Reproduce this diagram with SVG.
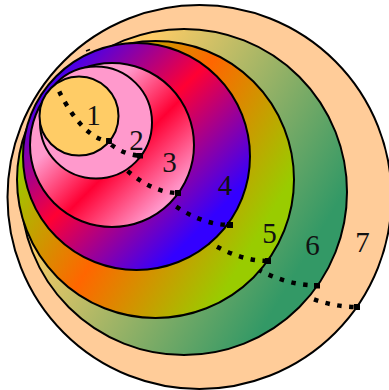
<svg xmlns="http://www.w3.org/2000/svg" width="389" height="390" viewBox="0 0 389 390">
<style>
.ring{stroke:#000;stroke-width:2}
.dots{fill:none;stroke:#000;stroke-width:4.5;stroke-dasharray:4.5 7.5;marker-end:url(#sq)}
.lbl{font-family:"Liberation Serif","Times New Roman",serif;font-size:29px;fill:#111;text-anchor:middle}
</style>
<defs>
<marker id="sq" markerUnits="userSpaceOnUse" markerWidth="6" markerHeight="6" refX="3" refY="3" orient="auto">
<rect width="6" height="6" fill="#000"/>
</marker>
<linearGradient id="g6" x1="0" y1="0" x2="1" y2="0.6">
<stop offset="0.3" stop-color="#FFCC66"/>
<stop offset="0.95" stop-color="#339966"/>
</linearGradient>
<linearGradient id="g5" x1="0" y1="0" x2="1" y2="0.6">
<stop offset="0.2" stop-color="#99CC00"/>
<stop offset="0.55" stop-color="#FF6600"/>
<stop offset="0.95" stop-color="#99CC00"/>
</linearGradient>
<linearGradient id="g4" x1="0" y1="0" x2="1" y2="1">
<stop offset="0.12" stop-color="#3300FF"/>
<stop offset="0.45" stop-color="#FF0033"/>
<stop offset="0.8" stop-color="#3300FF"/>
</linearGradient>
<linearGradient id="g3" x1="0" y1="0" x2="1" y2="1">
<stop offset="0.32" stop-color="#FF99CC"/>
<stop offset="0.57" stop-color="#FF0033"/>
<stop offset="0.84" stop-color="#FF99CC"/>
</linearGradient>
</defs>
<g id="node7">
<circle class="ring" cx="199.5" cy="197" r="192" fill="#FFCC99"/>
<path class="dots" d="M103.5,78 C141.9,158.6 250,307 357,307"/>
<line x1="86" y1="51" x2="90" y2="49.5" stroke="#000" stroke-width="1.5"/>
<text class="lbl" x="362.5" y="252">7</text>
</g>
<g id="node6">
<circle class="ring" cx="184" cy="192" r="163" fill="url(#g6)"/>
<path class="dots" d="M102.5,90.9 C135.1,159.4 225,285.5 317,285.5"/>
<text class="lbl" x="312.5" y="255">6</text>
</g>
<g id="node5">
<circle class="ring" cx="155.5" cy="179.5" r="138.5" fill="url(#g5)"/>
<path class="dots" d="M86.25,93.6 C113.95,151.8 190,261 268,261"/>
<text class="lbl" x="269.5" y="243">5</text>
</g>
<g id="node4">
<circle class="ring" cx="136.5" cy="156.5" r="113.5" fill="url(#g4)"/>
<path class="dots" d="M79.75,86.1 C102.45,133.8 163,225 230,225"/>
<text class="lbl" x="225" y="195">4</text>
</g>
<g id="node3">
<circle class="ring" cx="112" cy="145" r="82" fill="url(#g3)"/>
<path class="dots" d="M71,94.2 C87.4,128.6 130,193 178,193"/>
<text class="lbl" x="169.5" y="172">3</text>
</g>
<g id="node2">
<circle class="ring" cx="96" cy="122.5" r="56" fill="#FF99CC"/>
<path class="dots" d="M68,87.8 C79.2,111.3 107.2,155.5 140,155.5"/>
<text class="lbl" x="136.5" y="150">2</text>
</g>
<g id="node1">
<circle class="ring" cx="79" cy="116" r="39.5" fill="#FFCC66"/>
<path class="dots" d="M59.25,91.5 C67.15,108.1 86.9,140 109,141"/>
<text class="lbl" x="93.5" y="125">1</text>
</g>
</svg>
